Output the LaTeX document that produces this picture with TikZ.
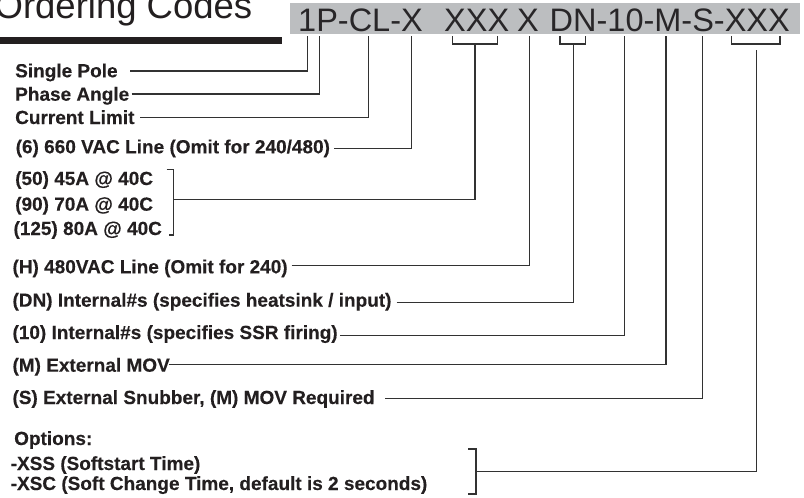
\documentclass[tikz,border=0pt]{standalone}
\usepackage{fontspec}
\setmainfont{Liberation Sans}
\newfontfamily\lblfont{Liberation Sans}[BoldFeatures={FakeBold=0.25}]
\definecolor{ink}{RGB}{35,31,32}
\definecolor{codeink}{RGB}{40,38,40}
\definecolor{wirec}{RGB}{50,50,50}
\definecolor{codebg}{RGB}{188,190,192}
\begin{document}
\begin{tikzpicture}[x=1pt,y=-1pt,
  lbl/.style={anchor=base west, inner sep=0pt, font=\lblfont\fontsize{19}{22}\selectfont\bfseries, text=ink},
  codetxt/.style={anchor=base west, inner sep=0pt, font=\fontsize{32.5}{36}\selectfont, text=codeink},
  wire/.style={draw=wirec, line width=1.1pt}]
\useasboundingbox (0,0) rectangle (804,498);
% header
\fill[codebg] (289.5,2.5) rectangle (800,34);
\fill[ink] (0,37) rectangle (282,44);
\node[anchor=base east, inner sep=0pt, font=\fontsize{36.5}{40}\selectfont, text=ink] (title) at (252.5,18) {Ordering Codes};
\node[codetxt] (c1) at (298,31.7) {1P-CL-X};
\node[codetxt] (c2) at (444,31.7) {XXX};
\node[codetxt] (c3) at (517,31.7) {X};
\node[codetxt] (c4) at (549.5,31.7) {DN-10-M-S-XXX};
% tick points under the code
\coordinate (k1) at (307.3,36);
\coordinate (k2) at (319.3,36);
\coordinate (k3) at (368.3,36);
\coordinate (k4) at (411.7,36);
\coordinate (k5) at (475,44);
\coordinate (k6) at (529.5,36);
\coordinate (k7) at (573.5,44);
\coordinate (k8) at (624.5,36);
\coordinate (k9) at (666,36);
\coordinate (k10) at (702.5,36);
\coordinate (k11) at (756.5,50);
% labels
\node[lbl] (l1) at (15,77.3) {Single Pole};
\node[lbl] (l2) at (15,100.7) {Phase Angle};
\node[lbl] (l3) at (15,124) {Current Limit};
\node[lbl] (l4) at (15.5,153.3) {(6) 660 VAC Line (Omit for 240/480)};
\node[lbl] (l5a) at (15,185) {(50) 45A @ 40C};
\node[lbl] (l5b) at (15,210.7) {(90) 70A @ 40C};
\node[lbl] (l5c) at (13.3,235) {(125) 80A @ 40C};
\node[lbl] (l6) at (12.3,273.3) {(H) 480VAC Line (Omit for 240)};
\node[lbl] (l7) at (12.3,306.7) {(DN) Internal\#s (specifies heatsink / input)};
\node[lbl] (l8) at (12.3,339) {(10) Internal\#s (specifies SSR firing)};
\node[lbl] (l9) at (12.3,371.7) {(M) External MOV};
\node[lbl] (l10) at (12.3,404) {(S) External Snubber, (M) MOV Required};
\node[lbl] (l11) at (14,445) {Options:};
\node[lbl] (l12) at (10.5,470) {-XSS (Softstart Time)};
\node[lbl] (l13) at (10.5,490) {-XSC (Soft Change Time, default is 2 seconds)};
% connector start points
\coordinate (s1) at (130,71);
\coordinate (s2) at (131.5,94);
\coordinate (s3) at (140,117.3);
\coordinate (s4) at (334,148.5);
\coordinate (s5) at (173.3,199.3);
\coordinate (s6) at (291.7,265.5);
\coordinate (s7) at (396.7,302.5);
\coordinate (s8) at (340,335.3);
\coordinate (s9) at (169,364.5);
\coordinate (s10) at (385,398.5);
\coordinate (s11) at (476,471.7);
% brackets
\draw[wire] (166.7,169.3) -- (173.3,169.3) -- (173.3,235) -- (169.3,235);
\draw[wire] (468,449) -- (476,449) -- (476,494) -- (468,494);
\draw[wire] (452.3,36) |- (497.3,44) -- (497.3,36);
\draw[wire] (560,36) |- (585.5,44) -- (585.5,36);
\draw[wire] (731.7,36) |- (780,44) -- (780,36);
% connectors
\draw[wire] (s1) -| (k1);
\draw[wire] (s2) -| (k2);
\draw[wire] (s3) -| (k3);
\draw[wire] (s4) -| (k4);
\draw[wire] (s5) -| (k5);
\draw[wire] (s6) -| (k6);
\draw[wire] (s7) -| (k7);
\draw[wire] (s8) -| (k8);
\draw[wire] (s9) -| (k9);
\draw[wire] (s10) -| (k10);
\draw[wire] (s11) -| (k11);
\end{tikzpicture}
\end{document}
